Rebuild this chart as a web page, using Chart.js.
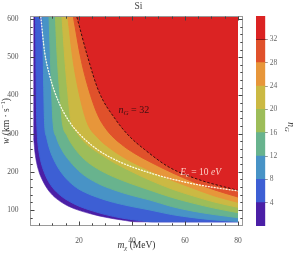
<!DOCTYPE html>
<html>
<head>
<meta charset="utf-8">
<script src="https://cdn.jsdelivr.net/npm/chart.js@4.4.1/dist/chart.umd.min.js"></script>
<style>
  html, body { margin: 0; padding: 0; background: #fff; }
  #wrap { position: relative; width: 300px; height: 253px; }
  #main { position: absolute; left: 0; top: 0; }
  #bar { position: absolute; left: 250px; top: 0; }
</style>
</head>
<body>
<div id="wrap">
  <canvas id="main" width="300" height="253"></canvas>
  <canvas id="bar" width="50" height="253"></canvas>
</div>
<script>
// contour levels of n_G (lower edge of each colour band)
const levels = [0, 4, 8, 12, 16, 20, 24, 28, 32];

// boundary n_G = level: m_chi (MeV) and w (km/s)
const m_n0 = [2.9, 2.9, 3.4, 4, 5, 6, 8, 10, 13, 16, 20, 25, 30, 36, 42, 80];
const w_n0 = [605, 282, 250, 224, 198, 181, 156, 139, 122, 110, 99, 89, 81, 74, 69, 69];

const m_n4 = [3.6, 3.8, 4.0, 4.2, 4.5, 5, 6, 7, 8, 10, 13, 16, 20, 25, 30, 36, 42, 48, 80];
const w_n4 = [605, 450, 345, 305, 275, 248, 217, 197, 181, 159, 138, 124, 110, 98, 88, 79, 73, 69, 69];

const m_n8 = [6.3, 6.5, 6.7, 7.0, 7.8, 9, 11, 14, 18, 22, 27, 33, 40, 46.8, 55, 63, 71, 80];
const w_n8 = [605, 500, 420, 330, 290, 258, 225, 192, 164, 147, 133, 120, 109, 100, 88, 80, 74, 70];

const m_n12 = [8.7, 9.2, 9.6, 10.2, 11.5, 13.5, 16.5, 21, 27, 33, 40, 46.8, 55, 63, 71, 80];
const w_n12 = [605, 500, 420, 330, 290, 258, 228, 196, 170, 153, 138, 126, 109, 97, 88, 80];

const m_n16 = [11.1, 11.8, 12.6, 13.7, 15.5, 18, 22, 27, 33, 40, 46.8, 55, 63, 71, 80];
const w_n16 = [605, 500, 420, 330, 295, 265, 233, 208, 187, 168, 152, 133, 118, 105, 93];

const m_n20 = [13.6, 14.6, 15.6, 16.9, 19, 22.5, 27, 33, 40, 46.8, 55, 63, 71, 80];
const w_n20 = [605, 500, 420, 335, 305, 275, 251, 225, 200, 178, 155, 137, 121, 107];

const m_n24 = [15.8, 17.6, 19.6, 23, 27, 32, 38, 46.8, 55, 63, 71, 80];
const w_n24 = [605, 500, 420, 330, 290, 260, 233, 203, 178, 157, 137, 120];

const m_n28 = [17.9, 20.6, 23.5, 27, 31, 36, 41, 46.8, 55, 63, 71, 80];
const w_n28 = [605, 500, 420, 350, 305, 272, 248, 226, 198, 174, 153, 134];

const m_n32 = [19.2, 23.3, 27.5, 34, 39, 44.8, 54, 65, 80];
const w_n32 = [605, 500, 410, 335, 293, 258, 212, 180, 151];

// E_e = 10 eV line
const m_e10 = [5.6, 7, 9, 12, 16, 20, 27, 35, 46.8, 60, 70, 80];
const w_e10 = [605, 515, 450, 388, 335, 300, 258, 227, 197, 173, 160, 150];

const xTicks = [20, 40, 60, 80];
const yTicks = [100, 200, 300, 400, 500, 600];
const barTicks = [4, 8, 12, 16, 20, 24, 28, 32];
const barTop = 36;

const bandColors = ['#4b1fa6', '#3d5fd4', '#4893c6', '#68b38e', '#9dbd59',
                    '#cbb943', '#e7963a', '#e0512b', '#db2323'];

const curves = [[m_n0, w_n0], [m_n4, w_n4], [m_n8, w_n8], [m_n12, w_n12], [m_n16, w_n16],
                [m_n20, w_n20], [m_n24, w_n24], [m_n28, w_n28], [m_n32, w_n32]];

const SERIF = '"Liberation Serif", "DejaVu Serif", serif';
Chart.defaults.font.family = SERIF;

function richText(ctx, parts, x, y, size, color, align) {
  const fontFor = k => {
    const it = k.includes('i') ? 'italic ' : '';
    const s = (k.includes('sub') || k.includes('sup')) ? size * 0.7 : size;
    return it + s + 'px ' + SERIF;
  };
  let w = 0;
  parts.forEach(([t, k]) => { ctx.font = fontFor(k); w += ctx.measureText(t).width; });
  let cx = align === 'center' ? x - w / 2 : (align === 'right' ? x - w : x);
  ctx.fillStyle = color;
  ctx.textAlign = 'left';
  ctx.textBaseline = 'alphabetic';
  parts.forEach(([t, k]) => {
    ctx.font = fontFor(k);
    const dy = k.includes('sub') ? size * 0.22 : (k.includes('sup') ? -size * 0.38 : 0);
    ctx.fillText(t, cx, y + dy);
    cx += ctx.measureText(t).width;
  });
}

const datasets = levels.map((lv, i) => ({
  label: 'nG ' + lv,
  data: curves[i][0].map((m, j) => ({ x: m, y: curves[i][1][j] })),
  backgroundColor: bandColors[i],
  borderColor: lv === 32 ? '#3a0e0e' : bandColors[i],
  borderWidth: lv === 0 ? 0.6 : 1,
  borderDash: lv === 32 ? [2.5, 1.8] : [],
  fill: { value: 605 },
  order: 20 - i,
  pointRadius: 0,
  cubicInterpolationMode: 'monotone'
}));

datasets.push({
  label: 'Ee 10 eV',
  data: m_e10.map((m, j) => ({ x: m, y: w_e10[j] })),
  borderColor: 'rgba(255,255,235,0.95)',
  borderWidth: 1.3,
  borderDash: [1, 2],
  borderCapStyle: 'round',
  fill: false,
  order: 0,
  pointRadius: 0,
  cubicInterpolationMode: 'monotone'
});

const decorPlugin = {
  id: 'decor',
  afterDatasetsDraw(chart) {
    const { ctx, scales: { x, y } } = chart;
    ctx.save();
    richText(ctx, [['n', 'i'], ['G', 'isub'], [' = 32', 'r']],
      x.getPixelForValue(34.9), y.getPixelForValue(354), 10, '#3b1212', 'left');
    richText(ctx, [['E', 'i'], ['e', 'isub'], [' = 10 ', 'r'], ['eV', 'i']],
      x.getPixelForValue(58.2), y.getPixelForValue(191), 9.5, 'rgba(255,222,212,0.92)', 'left');
    ctx.restore();
  },
  afterDraw(chart) {
    const { ctx, chartArea: a, scales: { x, y } } = chart;
    ctx.save();
    ctx.strokeStyle = '#9a9a9a';
    ctx.lineWidth = 1;
    ctx.strokeRect(a.left, a.top, a.right - a.left, a.bottom - a.top);
    ctx.strokeStyle = '#444';
    const seg = (x1, y1, x2, y2) => { ctx.beginPath(); ctx.moveTo(x1, y1); ctx.lineTo(x2, y2); ctx.stroke(); };
    for (let v = 5; v <= 80; v += 5) {
      const px = Math.round(x.getPixelForValue(v)) + 0.5;
      const len = v % 20 === 0 ? 4 : 2.2;
      seg(px, a.bottom, px, a.bottom - len);
      seg(px, a.top, px, a.top + len);
    }
    for (let v = 80; v <= 600; v += 20) {
      const py = Math.round(y.getPixelForValue(v)) + 0.5;
      const len = v % 100 === 0 ? 4 : 2.2;
      seg(a.left, py, a.left + len, py);
      seg(a.right, py, a.right - len, py);
    }
    richText(ctx, [['Si', 'r']], (a.left + a.right) / 2 + 2, 9, 9.5, '#444', 'center');
    richText(ctx, [['m', 'i'], ['χ', 'isub'], [' (MeV)', 'r']], (a.left + a.right) / 2, 248, 9.5, '#333', 'center');
    ctx.translate(8.5, (a.top + a.bottom) / 2);
    ctx.rotate(-Math.PI / 2);
    richText(ctx, [['w', 'i'], [' (km · s', 'r'], ['−1', 'sup'], [')', 'r']], 0, 0, 9.5, '#333', 'center');
    ctx.restore();
  }
};

new Chart(document.getElementById('main'), {
  type: 'line',
  data: { datasets: datasets },
  options: {
    responsive: false,
    animation: false,
    layout: { padding: { left: 0, right: 57.5, top: 16.5, bottom: 0 } },
    plugins: { legend: { display: false }, tooltip: { enabled: false }, filler: { propagate: false } },
    scales: {
      x: {
        type: 'linear', min: 1.7, max: 81.7,
        afterBuildTicks: s => { s.ticks = xTicks.map(v => ({ value: v })); },
        afterFit: s => { s.height = 27.5; },
        ticks: { font: { size: 7.5 }, color: '#555', padding: 3, maxRotation: 0 },
        grid: { display: false }, border: { display: false }
      },
      y: {
        type: 'linear', min: 59.4, max: 606.5,
        afterBuildTicks: s => { s.ticks = yTicks.map(v => ({ value: v })); },
        afterFit: s => { s.width = 30.5; },
        ticks: { font: { size: 7.5 }, color: '#555', padding: 4 },
        grid: { display: false }, border: { display: false }
      }
    }
  },
  plugins: [decorPlugin]
});

// colour bar legend
const barPlugin = {
  id: 'barDecor',
  afterDraw(chart) {
    const { ctx, chartArea: a, scales: { y } } = chart;
    ctx.save();
    const py = Math.round(y.getPixelForValue(32)) + 0.5;
    ctx.strokeStyle = '#8a1616';
    ctx.lineWidth = 1;
    ctx.beginPath(); ctx.moveTo(a.left, py); ctx.lineTo(a.right, py); ctx.stroke();
    ctx.translate(37.5, 127);
    ctx.rotate(Math.PI / 2);
    richText(ctx, [['n', 'i'], ['G', 'isub']], 0, 0, 9.5, '#333', 'center');
    ctx.restore();
  }
};

new Chart(document.getElementById('bar'), {
  type: 'bar',
  data: {
    labels: ['nG'],
    datasets: levels.map((lv, i) => ({
      data: [[lv, i + 1 < levels.length ? levels[i + 1] : barTop]],
      backgroundColor: bandColors[i],
      borderWidth: 0,
      grouped: false,
      barPercentage: 1,
      categoryPercentage: 1
    }))
  },
  options: {
    responsive: false,
    animation: false,
    layout: { padding: { left: 6, right: 0, top: 16, bottom: 27 } },
    plugins: { legend: { display: false }, tooltip: { enabled: false } },
    scales: {
      x: { display: false },
      y: {
        position: 'right', min: 0, max: barTop,
        afterBuildTicks: s => { s.ticks = barTicks.map(v => ({ value: v })); },
        afterFit: s => { s.width = 34.7; },
        ticks: { font: { size: 7.5 }, color: '#666', padding: 2 },
        grid: { drawOnChartArea: false, drawTicks: true, tickLength: 2.5, color: '#999' },
        border: { display: false }
      }
    }
  },
  plugins: [barPlugin]
});
</script>
</body>
</html>
